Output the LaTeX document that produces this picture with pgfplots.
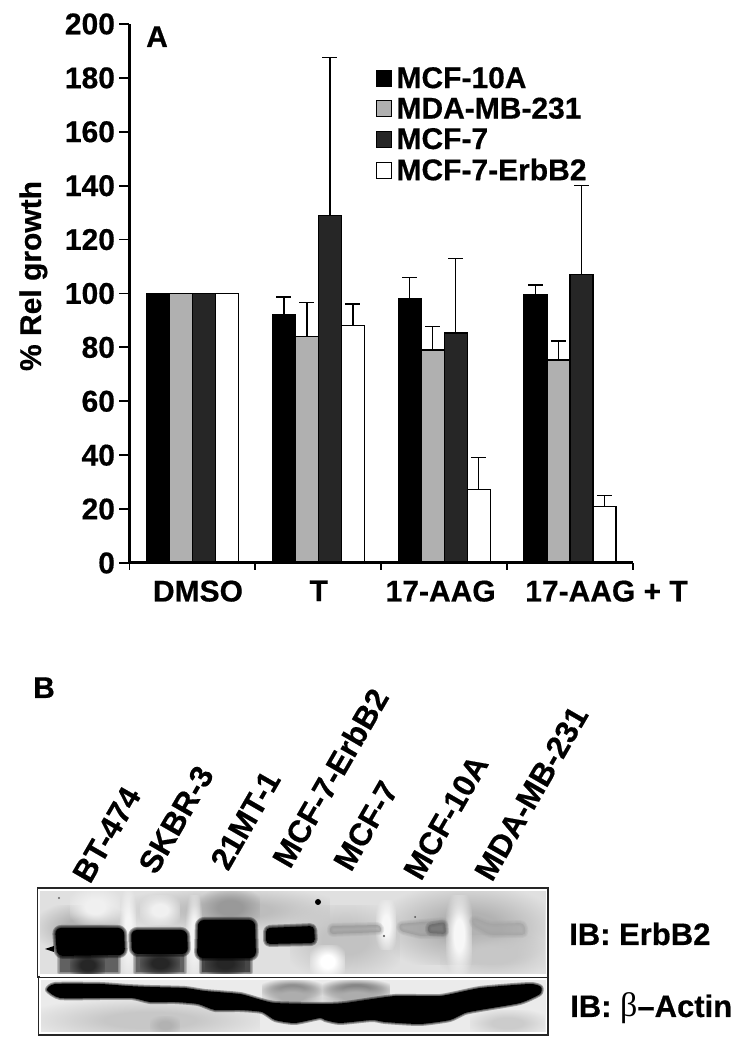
\documentclass[border=0pt]{standalone}
\usepackage{pgfplots}
\pgfplotsset{compat=1.18}
\usepackage{fontspec}
\setmainfont{Liberation Sans}[BoldFeatures={FakeBold=0.5}]
\newfontfamily\serifb{Liberation Serif}
\usetikzlibrary{calc,fadings}
\newcommand{\bigb}{\fontsize{30}{32}\selectfont\bfseries}
\newcommand{\lane}{\fontsize{31.5}{33}\selectfont\bfseries}
\newcommand{\ibf}{\fontsize{31}{33}\selectfont\bfseries}
\pgfplotstableread{
x v1 e1 v2 e2 v3 e3 v4 e4
0.5 100 0 100 0 100 0 100 0
1.5 92 6.8 84 12.7 129 58.5 88 8.1
2.5 98 8 79 8.7 85.3 27.7 27.4 11.8
3.5 99.5 3.7 75.3 7 107 33 21 4
}\datatable
\pgfdeclareradialshading{softr}{\pgfpointorigin}{color(0bp)=(white); color(10bp)=(white); color(30bp)=(black); color(100bp)=(black)}
\pgfdeclarefading{fz}{\pgfuseshading{softr}}
\newcommand{\patch}[2]{\fill[#1,path fading=fz] #2;}
\newcommand{\soft}[3]{%
  \foreach \w in {6,4,2}{
    \draw[line join=round,draw=#1,line width=\w pt,opacity=0.3*#2] #3;}
  \fill[#1,opacity=#2] #3;}
\begin{document}
\begin{tikzpicture}
\path (0,0) rectangle (744pt,1050pt);
\begin{axis}[
  at={(129.5pt,487pt)},anchor=south west,scale only axis,
  width=503.5pt,height=539pt,
  xmin=0,xmax=4,ymin=0,ymax=200,
  axis x line*=bottom,axis y line*=left,
  axis line style={-,line width=3pt},
  ytick={0,20,...,200},
  xtick={0.544,1.504,2.472,3.79},
  xticklabels={DMSO,T,17-AAG,17-AAG + T},
  extra x ticks={0,1,2,3,4},
  extra x tick labels={},
  extra x tick style={major tick length=7pt,x tick style={draw=black,line width=1.8pt}},
  tick align=outside,
  x tick style={draw=none},
  y tick style={line width=1.8pt,black},
  major tick length=10pt,
  tick label style={font=\bigb,/pgf/number format/assume math mode=true},
  yticklabel style={xshift=-1pt},
  xticklabel style={yshift=-4pt},
  ylabel={\bigb\% Rel growth},
  ylabel style={at={(axis description cs:-0.1758,0.5325)},anchor=base},
  ybar=0pt,bar width=23pt,
  legend style={at={(0.489,0.924)},anchor=north west,draw=none,fill=none,
    font=\bigb,row sep=4pt,inner sep=0pt,/tikz/every even column/.append style={column sep=6pt}},
  legend cell align=left,
  legend image code/.code={\draw[#1,line width=1.2pt] (0pt,-8pt) rectangle (15pt,8pt);\path[draw=none,fill=none] (0pt,0pt) -- (18pt,0pt);},
  error bars/y dir=plus,error bars/y explicit,
  error bars/error bar style={line width=1.6pt,black},
  error bars/error mark options={rotate=90,mark size=7.5pt,line width=1.6pt,black},
  clip=false,
]
\addplot[draw=black,line width=1.3pt,fill=black] table[x=x,y=v1,y error=e1]{\datatable};
\addplot[draw=black,line width=1.3pt,fill=black!31] table[x=x,y=v2,y error=e2]{\datatable};
\addplot[draw=black,line width=1.3pt,fill=black!85] table[x=x,y=v3,y error=e3]{\datatable};
\addplot[draw=black,line width=1.3pt,fill=white] table[x=x,y=v4,y error=e4]{\datatable};
\legend{MCF-10A,MDA-MB-231,MCF-7,MCF-7-ErbB2}
\draw[black,line width=3pt] (rel axis cs:0,0) -- (rel axis cs:1,0);
\end{axis}
\begin{scope}[shift={(0,1050pt)},x=1pt,y=-1pt]
\node[anchor=base west,inner sep=0pt] at (146,47) {\bigb A};
\node[anchor=base west,inner sep=0pt] at (33,698) {\bigb B};
\fill[black!12] (39,890) rectangle (546,975);
\fill[black!8] (39,979) rectangle (546,1033);
% mottling
\patch{black!30}{(40,905) rectangle (125,950)}
\patch{black!26}{(130,890) rectangle (330,930)}
\patch{black!30}{(390,890) rectangle (545,965)}
\patch{black!24}{(290,905) rectangle (400,975)}
\patch{black!22}{(440,935) rectangle (545,975)}
\patch{black!40}{(200,890) rectangle (260,925)}
\patch{black!6}{(70,888) rectangle (120,925)}
\patch{black!6}{(140,895) rectangle (180,925)}
\patch{black!4}{(120,890) rectangle (136,975)}
\patch{black!4}{(186,895) rectangle (202,975)}
\patch{white}{(310,945) rectangle (345,978)}
\patch{black!3}{(376,900) rectangle (396,950)}
\patch{black!3}{(446,895) rectangle (472,975)}
\patch{black!22}{(40,1000) rectangle (260,1040)}
\patch{black!20}{(470,1010) rectangle (545,1036)}
\patch{black!30}{(150,1016) rectangle (180,1034)}
% smears under the strong bands
\soft{black!62}{1}{(60,956) rectangle (118,972)}
\soft{black!62}{1}{(136,955) rectangle (184,972)}
\soft{black!72}{1}{(202,958) rectangle (250,972)}
\patch{black!85}{(70,952) rectangle (105,978)}
\patch{black!85}{(140,950) rectangle (180,976)}
\patch{black!85}{(205,950) rectangle (245,976)}
% ErbB2 bands
\soft{black}{1}{[rounded corners=6pt] (55,928) -- (124,928) -- (125,955) -- (57,956) -- cycle}
\soft{black}{1}{[rounded corners=6pt] (131,930) -- (187,930) -- (188,954) -- (132,954) -- cycle}
\soft{black}{1}{[rounded corners=6pt] (198,920) -- (255,920) -- (256,958) -- (197,958) -- cycle}
\soft{black}{1}{[rounded corners=4pt] (266,928) -- (314,926) -- (315,943) -- (266,944) -- cycle}
\soft{black!42}{0.55}{[rounded corners=3pt] (330,926) -- (380,925) -- (382,932) -- (330,934) -- cycle}
\soft{black!40}{0.6}{[rounded corners=3pt] (399,924) -- (445,920) -- (446,936) -- (420,936) -- (400,931) -- cycle}
\soft{black!62}{0.6}{[rounded corners=3pt] (428,925) -- (445,922) -- (446,934) -- (428,933) -- cycle}
\soft{black!36}{0.6}{[rounded corners=4pt] (472,917) -- (490,924) -- (524,923) -- (526,935) -- (490,935) -- (472,925) -- cycle}
\fill[black] (318,902) circle (3);
\fill[black] (45,949) -- (54,946) -- (54,952) -- cycle;
\fill[black!70] (415,917) circle (1);
\fill[black!60] (59,898) circle (1.2);
\fill[black!70] (384,936) circle (1.2);
\patch{black!50}{(262,980) rectangle (322,998)}
\patch{black!55}{(322,980) rectangle (390,998)}
\patch{black!32}{(262,985) rectangle (322,1008)}
\patch{black!32}{(322,985) rectangle (390,1008)}
\foreach \w in {4,2}{
\draw[draw=black,opacity=0.35,line width=\w pt,line join=round] plot[smooth cycle,tension=0.35] coordinates {
 (47,990) (55,984) (100,984) (128,986) (150,987) (185,988) (205,991) (240,994) (258,999)
 (275,1003) (320,1004) (345,1003) (395,996) (440,996) (480,988) (530,984) (541,987) (540,994)
 (520,1003) (480,1010) (465,1013) (450,1020) (420,1024) (385,1022) (372,1020) (340,1023)
 (325,1020) (320,1018) (295,1023) (275,1020) (262,1012) (240,1010) (215,1010) (198,1004)
 (175,1002) (150,1002) (132,998) (100,998) (60,998)};}
\fill[black] plot[smooth cycle,tension=0.35] coordinates {
 (47,990) (55,984) (100,984) (128,986) (150,987) (185,988) (205,991) (240,994) (258,999)
 (275,1003) (320,1004) (345,1003) (395,996) (440,996) (480,988) (530,984) (541,987) (540,994)
 (520,1003) (480,1010) (465,1013) (450,1020) (420,1024) (385,1022) (372,1020) (340,1023)
 (325,1020) (320,1018) (295,1023) (275,1020) (262,1012) (240,1010) (215,1010) (198,1004)
 (175,1002) (150,1002) (132,998) (100,998) (60,998)};
\draw[white,line width=3pt] (38.5,889.5) rectangle (547,975.5);
\draw[white,line width=3pt] (39.5,979) rectangle (547,1034);
\fill[white] (30,1036) rectangle (560,1050);
\fill[white] (549,880) rectangle (565,1040);
\fill[white] (20,880) rectangle (36.8,976);
\fill[white] (20,976) rectangle (37.8,1040);
\draw[black!85,line width=1.6pt] (37.5,888) rectangle (548,977);
\draw[black!85,line width=1.6pt] (38.5,977.5) rectangle (548,1035);
\draw[white,line width=1.4pt] (39.5,976) -- (546.5,976);
\foreach \xx/\yy/\t in {90/885/BT-474,156/876/SKBR-3,228/872/21MT-1,290/870/MCF-7-ErbB2,351/873/MCF-7,421/882/MCF-10A,492/883/MDA-MB-231}{
 \node[rotate=60,anchor=base west,inner sep=0pt] at (\xx,\yy) {\lane\t};}
\node[anchor=base west,inner sep=0pt] at (569,945) {\ibf IB: ErbB2};
\node[anchor=base west,inner sep=0pt] at (570,1017) {\ibf IB: {\serifb\mdseries\fontsize{34}{34}\selectfont β}–Actin};
\end{scope}
\end{tikzpicture}
\end{document}
